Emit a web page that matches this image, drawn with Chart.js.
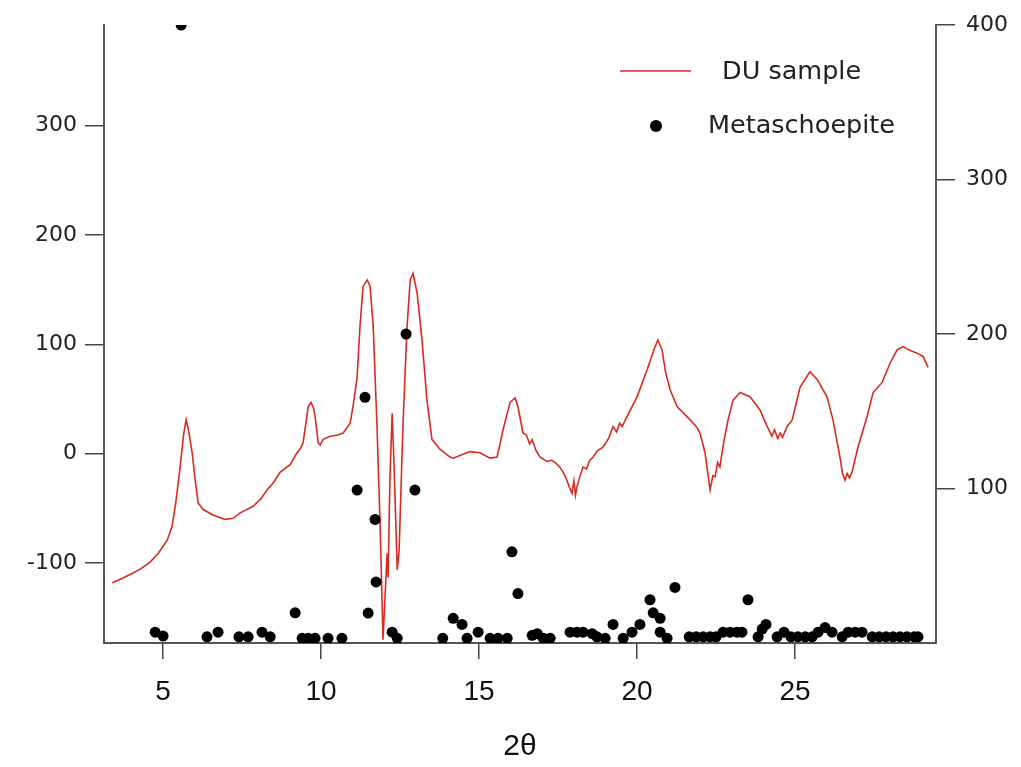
<!DOCTYPE html>
<html>
<head>
<meta charset="utf-8">
<script src="https://cdn.jsdelivr.net/npm/chart.js@4.4.1/dist/chart.umd.min.js"></script>
<style>
  body { margin: 0; background: #fff; }
  canvas { display: block; }
</style>
</head>
<body>
<canvas id="xrdCanvas" width="1021" height="767"></canvas>
<script>
// DU sample pattern (left axis)
const duTheta = [3.39, 3.7, 4.05, 4.3, 4.59, 4.85, 5.13, 5.28, 5.4, 5.54, 5.65, 5.73, 5.8, 5.92, 6.02, 6.11, 6.27, 6.58, 6.96, 7.22, 7.44, 7.85, 8.1, 8.29, 8.5, 8.7, 9.02, 9.24, 9.35, 9.43, 9.52, 9.59, 9.68, 9.76, 9.81, 9.91, 9.97, 10.06, 10.28, 10.5, 10.7, 10.92, 11.01, 11.14, 11.23, 11.33, 11.46, 11.55, 11.65, 11.77, 11.87, 11.96, 12.03, 12.09, 12.12, 12.18, 12.25, 12.31, 12.41, 12.47, 12.59, 12.72, 12.82, 12.91, 13.04, 13.2, 13.35, 13.51, 13.77, 14.08, 14.18, 14.45, 14.72, 15.03, 15.35, 15.57, 15.76, 15.98, 16.14, 16.23, 16.39, 16.5, 16.6, 16.68, 16.8, 16.93, 17.15, 17.3, 17.41, 17.55, 17.66, 17.75, 17.85, 17.94, 18.0, 18.05, 18.1, 18.2, 18.29, 18.4, 18.5, 18.61, 18.75, 18.92, 19.1, 19.24, 19.35, 19.45, 19.53, 19.68, 20.0, 20.32, 20.57, 20.66, 20.79, 20.9, 21.04, 21.27, 21.58, 21.9, 22.0, 22.15, 22.31, 22.4, 22.47, 22.55, 22.62, 22.69, 22.75, 22.88, 23.04, 23.26, 23.58, 23.89, 24.1, 24.27, 24.35, 24.45, 24.53, 24.6, 24.75, 24.91, 25.16, 25.47, 25.7, 26.01, 26.2, 26.42, 26.5, 26.58, 26.65, 26.72, 26.8, 26.99, 27.28, 27.47, 27.75, 28.01, 28.23, 28.42, 28.6, 28.86, 29.05, 29.21];
const duCounts = [-118, -114, -109, -105, -99, -91, -79, -67, -45, -12, 18, 31, 22, 1, -25, -45, -51, -56, -60, -59, -54, -48, -41, -33, -26, -17, -10, 1, 5, 10, 28, 43, 47, 42, 34, 10, 8, 13, 16, 17, 19, 28, 43, 70, 116, 153, 159, 153, 116, 25, -67, -170, -127, -91, -113, -21, 37, -12, -106, -88, 25, 116, 159, 165, 147, 102, 49, 13, 4, -3, -4, -1, 2, 1, -4, -3, 22, 47, 51, 43, 19, 17, 9, 13, 3, -3, -7, -6, -8, -12, -17, -22, -30, -36, -25, -38, -30, -20, -12, -14, -6, -3, 3, 6, 14, 25, 20, 28, 25, 34, 52, 77, 98, 104, 95, 75, 59, 43, 34, 24, 18, 1, -33, -20, -21, -8, -12, 1, 12, 31, 49, 56, 52, 40, 26, 16, 22, 14, 19, 15, 25, 31, 61, 75, 68, 52, 31, -3, -18, -24, -18, -22, -17, 6, 34, 56, 65, 83, 95, 98, 95, 92, 89, 79];

// Metaschoepite reference peaks (right axis)
const metaTheta = [4.75, 5.0, 5.57, 6.39, 6.74, 7.4, 7.69, 8.13, 8.39, 9.18, 9.4, 9.59, 9.81, 10.22, 10.66, 11.14, 11.39, 11.49, 11.71, 11.74, 12.25, 12.41, 12.69, 12.97, 13.85, 14.18, 14.46, 14.62, 14.97, 15.35, 15.6, 15.89, 16.04, 16.23, 16.68, 16.84, 17.03, 17.25, 17.88, 18.1, 18.29, 18.58, 18.73, 18.99, 19.24, 19.56, 19.84, 20.09, 20.41, 20.51, 20.73, 20.73, 20.95, 21.2, 21.65, 21.87, 22.09, 22.31, 22.5, 22.72, 22.94, 23.16, 23.32, 23.51, 23.83, 23.96, 24.08, 24.43, 24.65, 24.87, 25.09, 25.32, 25.54, 25.73, 25.95, 26.17, 26.49, 26.68, 26.9, 27.12, 27.44, 27.66, 27.88, 28.1, 28.32, 28.54, 28.77, 28.89];
const metaIntensity = [7, 4.5, 400, 4, 7, 4, 4, 7, 4, 19.5, 3, 3, 3, 3, 3, 99, 159, 19.4, 80, 39.5, 7, 3, 200, 99, 3, 16, 12, 3, 7, 3, 3, 3, 59, 32, 5, 6, 3, 3, 7, 7, 7, 6, 4, 3, 12, 3, 7, 12, 28, 19.5, 16, 7, 3, 36, 4, 4, 4, 4, 4, 7, 7, 7, 7, 28, 4, 9, 12, 4, 7, 4, 4, 4, 4, 7, 10, 7, 4, 7, 7, 7, 4, 4, 4, 4, 4, 4, 4, 4];

const xTicks = [5, 10, 15, 20, 25];
const leftTicks = [-100, 0, 100, 200, 300];
const rightTicks = [100, 200, 300, 400];

const duPoints = duTheta.map((t, i) => ({ x: t, y: duCounts[i] }));
const metaPoints = metaTheta.map((t, i) => ({ x: t, y: metaIntensity[i] }));

const axisColor = "#555";

// legend drawn in the upper right of the plot
const cornerLegend = {
  id: "cornerLegend",
  afterDraw(chart) {
    const ctx = chart.ctx;
    const line = chart.data.datasets[0];
    const dots = chart.data.datasets[1];
    ctx.save();
    ctx.strokeStyle = line.borderColor;
    ctx.lineWidth = 1.5;
    ctx.beginPath();
    ctx.moveTo(620, 71);
    ctx.lineTo(691, 71);
    ctx.stroke();
    ctx.fillStyle = dots.backgroundColor;
    ctx.beginPath();
    ctx.arc(656, 126, 6, 0, Math.PI * 2);
    ctx.fill();
    ctx.font = '25.5px "DejaVu Sans", sans-serif';
    ctx.fillStyle = "#222";
    ctx.textBaseline = "middle";
    ctx.fillText(line.label, 722, 72);
    ctx.fillText(dots.label, 708, 126);
    ctx.restore();
  }
};

new Chart(document.getElementById("xrdCanvas"), {
  type: "scatter",
  data: {
    datasets: [
      {
        type: "line",
        label: "DU sample",
        data: duPoints,
        yAxisID: "y",
        borderColor: "#d92a20",
        borderWidth: 1.6,
        pointRadius: 0,
        tension: 0,
        fill: false,
        order: 1,
      },
      {
        label: "Metaschoepite",
        data: metaPoints,
        yAxisID: "y1",
        backgroundColor: "#000",
        borderColor: "#000",
        pointRadius: 5.5,
        pointBorderWidth: 0,
        order: 0,
      },
    ],
  },
  options: {
    responsive: false,
    animation: false,
    devicePixelRatio: 1,
    layout: { padding: { top: 25, left: 0, right: 0, bottom: 0 } },
    plugins: {
      legend: { display: false },
      tooltip: { enabled: false },
    },
    scales: {
      x: {
        type: "linear",
        min: 3.13,
        max: 29.46,
        afterBuildTicks: (s) => { s.ticks = xTicks.map((v) => ({ value: v })); },
        afterFit: (s) => { s.height = 124; },
        border: { display: true, color: axisColor, width: 2 },
        grid: { drawOnChartArea: false, drawTicks: true, tickLength: 16, color: "#444", lineWidth: 1.5 },
        ticks: {
          color: "#111",
          padding: 16,
          font: { family: '"Liberation Sans Narrow", "Liberation Sans", Arial, sans-serif', size: 28 },
        },
        title: {
          display: true,
          text: "2θ",
          color: "#111",
          padding: { top: 0, bottom: 2 },
          font: { family: '"Liberation Sans", Arial, sans-serif', size: 30 },
        },
      },
      y: {
        position: "left",
        min: -173,
        max: 392,
        afterBuildTicks: (s) => { s.ticks = leftTicks.map((v) => ({ value: v })); },
        afterFit: (s) => { s.width = 104; },
        border: { display: true, color: axisColor, width: 2 },
        grid: { drawOnChartArea: false, drawTicks: true, tickLength: 19, color: "#444", lineWidth: 1.5 },
        ticks: {
          color: "#222",
          padding: 8,
          font: { family: '"DejaVu Sans", sans-serif', size: 22 },
        },
      },
      y1: {
        position: "right",
        min: 0,
        max: 400,
        afterBuildTicks: (s) => { s.ticks = rightTicks.map((v) => ({ value: v })); },
        afterFit: (s) => { s.width = 85; },
        border: { display: true, color: axisColor, width: 2 },
        grid: { drawOnChartArea: false, drawTicks: true, tickLength: 19, color: "#444", lineWidth: 1.5 },
        ticks: {
          color: "#222",
          padding: 11,
          font: { family: '"DejaVu Sans", sans-serif', size: 22 },
        },
      },
    },
  },
  plugins: [cornerLegend],
});
</script>
</body>
</html>
